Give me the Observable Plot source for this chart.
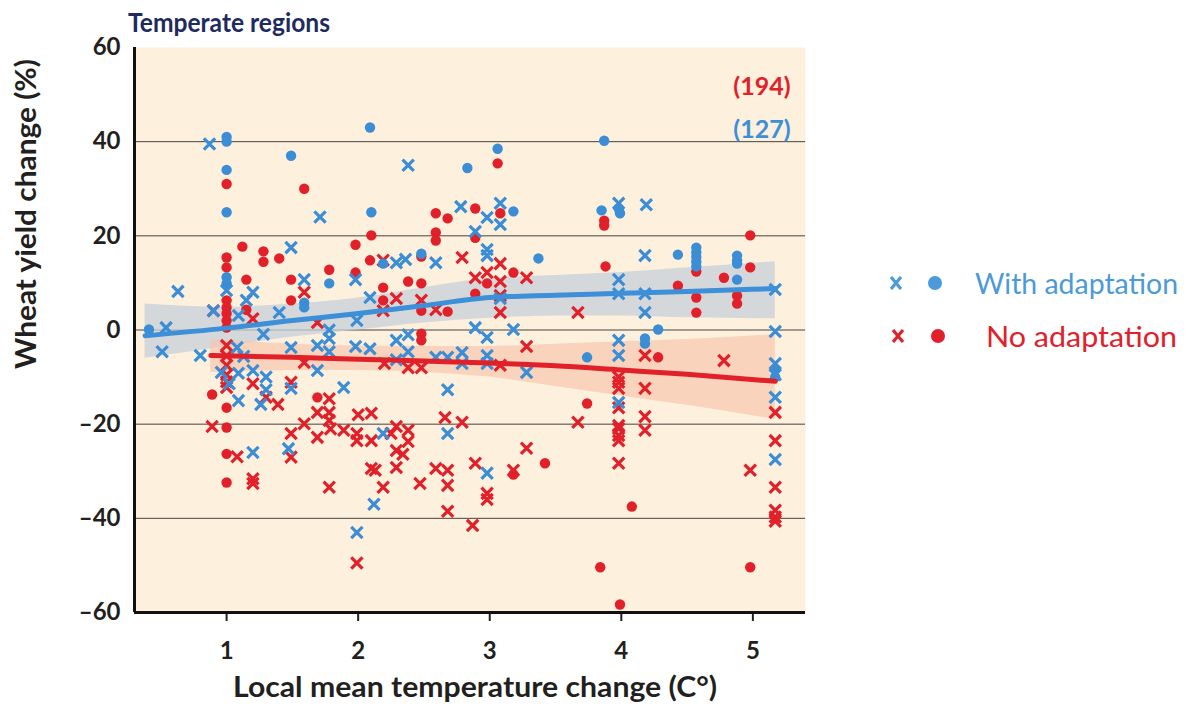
<!DOCTYPE html>
<html><head><meta charset="utf-8">
<script src="https://cdn.jsdelivr.net/npm/d3@7"></script>
<script src="https://cdn.jsdelivr.net/npm/@observablehq/plot@0.6"></script>
<style>
body{margin:0;background:#fff;font-family:Lato,"Open Sans",sans-serif;}
#wrap{position:relative;width:1193px;height:709px;}
#chart{position:absolute;left:0;top:0;}
#overlay{position:absolute;left:0;top:0;pointer-events:none;}
</style>
</head><body>
<div id="wrap">
<div id="chart"></div>
<svg id="overlay" width="1193" height="709"></svg>
</div>
<script>
// ---- data ----
const chartTitle = "Temperate regions";
const xLabel = "Local mean temperature change (C\u00b0)";
const yLabel = "Wheat yield change (%)";
const seriesNames = ["With adaptation", "No adaptation"];
const seriesCounts = ["(194)", "(127)"];
const xTicks = [1, 2, 3, 4, 5];
const yTicks = [-60, -40, -20, 0, 20, 40, 60];
const gridValues = [-40, -20, 0, 20, 40];

// With adaptation, crosses [temp change, yield change]
const withCross = [[0.87,39.5],[1.71,24],[1.49,17.5],[0.63,8.2],[1.2,8],[1.15,6.3],[1.59,10.7],[1.0,8.4],[1.98,10.7],
[0.9,4.1],[1.09,3.1],[1.40,3.7],[0.54,0.5],[0.51,-4.6],[0.80,-5.4],[1.28,-0.9],[1.78,0],[1.78,-1.8],[1.78,-4.6],[1.98,-3.5],
[1.08,-3.7],[1.13,-5.6],[1.49,-3.7],[1.69,-3.3],[1.69,-8.6],[0.96,-9],[1.02,-11.4],[1.09,-9.2],[1.2,-8.6],[1.3,-10],[1.3,-12.7],
[1.49,-12.4],[1.89,-12.2],[1.26,-15.8],[1.09,-15],[1.2,-26],[1.47,-25.2],[1.99,-43],[2.38,35],[2.78,26.2],[2.98,23.9],[3.08,26.9],
[3.08,22.4],[2.89,20.9],[2.29,14.3],[2.36,15],[2.59,14.3],[2.98,17.1],[2.98,15.8],[2.09,6.9],[3.08,6.7],[1.99,2],[2.89,0.5],
[3.18,0.1],[2.98,-1.6],[2.38,-1.0],[2.29,-2.2],[2.38,-4.6],[2.09,-4],[2.29,-6.3],[2.59,-5.8],[2.68,-5.8],[2.79,-4.8],[2.79,-7.1],
[2.98,-5.4],[2.98,-7.1],[3.28,-9],[2.68,-12.7],[2.19,-22],[2.68,-22],[2.12,-37],[2.98,-30.4],[3.98,26.9],[4.19,26.6],[4.18,15.8],
[3.98,10.7],[3.98,7.7],[4.18,7.7],[4.18,3.7],[5.17,8.6],[5.17,-0.3],[3.98,-2.2],[3.98,-5.4],[5.17,-7.1],[5.17,-9.5],[5.17,-14.3],
[3.98,-15.4],[5.17,-27.5]];
// With adaptation, dots
const withDot = [[0.41,0.1],[1.0,41],[1.0,40],[1.0,34],[1.0,25],[1.49,37],[1.0,11.2],[1.0,9.9],[1.59,5.8],[1.59,4.8],[1.78,9.9],
[2.09,43],[3.06,38.5],[2.83,34.4],[2.1,25],[3.18,25.2],[2.19,14.1],[2.48,16.2],[3.37,15.2],[3.87,40.2],[3.85,25.4],[3.99,24.8],
[3.98,25.8],[4.43,16],[4.57,17.5],[4.57,16.5],[4.57,15.5],[4.57,14.5],[4.57,13.5],[4.88,15.8],[4.88,14.8],[4.88,14.1],[4.88,10.7],
[4.28,0.1],[4.18,-1.8],[4.18,-2.9],[3.74,-5.8],[5.17,-8.3],[5.17,-10]];
// No adaptation, crosses
const noCross = [[1.59,8],[1.2,2.4],[0.9,4.1],[1.69,1.6],[1.0,-3.3],[1.0,-5.5],[1.0,-7.5],[1.0,-9.5],[1.0,-11],[1.59,-6.9],[1.2,-11.4],
[1.3,-14.3],[1.49,-11.1],[1.0,-12.2],[1.39,-15.8],[1.78,-14.6],[1.69,-17.5],[1.78,-17.5],[1.78,-19.2],[1.59,-19.9],[2.0,-18],
[0.89,-20.5],[1.49,-22],[1.69,-22.8],[1.79,-21],[1.89,-21.3],[1.99,-22],[1.99,-23.5],[1.08,-26.9],[1.49,-27],[1.2,-31.6],[1.2,-32.6],
[1.78,-33.4],[1.99,-49.5],[2.19,14.8],[2.79,15.4],[3.08,14.1],[3.28,11.1],[2.98,12.2],[2.89,11.1],[3.08,10.3],[2.19,4.1],[2.29,6.7],
[2.48,6.3],[2.59,4.3],[3.08,7.3],[3.08,3.7],[3.67,3.7],[3.28,-3.5],[2.2,-7.1],[2.38,-8],[2.48,-8],[3.08,-7.5],[2.1,-17.7],[2.66,-18.6],
[2.79,-19.6],[2.29,-20.5],[2.38,-21.3],[3.67,-19.6],[2.1,-23.5],[2.25,-22],[2.38,-23.7],[2.29,-25.6],[2.34,-26.4],[2.1,-29.4],
[2.13,-29.8],[2.29,-29.2],[2.59,-29.4],[2.68,-29.8],[2.89,-28.3],[3.18,-29.8],[3.28,-25.1],[2.19,-33.4],[2.47,-32.6],[2.68,-33],
[2.98,-34.7],[2.98,-36],[2.68,-38.5],[2.87,-41.5],[4.18,-5.4],[4.78,-6.5],[3.98,-10],[3.98,-11.1],[3.98,-12.4],[4.18,-12.4],
[3.98,-16.5],[5.17,-17.5],[4.18,-18.4],[3.98,-20.3],[3.98,-20.9],[3.98,-22.4],[3.98,-23.5],[4.18,-21.3],[3.98,-28.3],[4.98,-29.8],
[5.17,-23.5],[5.17,-33.4],[5.17,-38.3],[5.17,-39.7],[5.17,-40.6]];
// No adaptation, dots
const noDot = [[1.0,31],[1.59,30],[1.12,17.7],[1.28,16.7],[1.28,14.5],[1.40,15.2],[1.98,18.1],[1.0,15.4],[1.0,13.3],[1.0,6.3],[1.0,4.8],
[1.0,3.5],[1.0,2],[1.0,0.5],[1.15,10.7],[1.49,10.7],[1.49,6.3],[1.78,12.8],[1.98,12.2],[1.15,4.3],[0.89,-13.7],[1.0,-16.5],[1.69,-14.3],
[1.0,-20.7],[1.0,-26.3],[1.0,-32.4],[3.06,35.4],[2.59,24.8],[2.68,23.7],[2.89,25.8],[3.08,24.8],[2.1,20.1],[2.59,20.7],[2.59,19],
[2.89,19.6],[2.09,14.8],[2.48,15.6],[3.18,12.2],[2.98,9.9],[2.89,7.7],[2.19,9.0],[2.19,6.3],[2.38,10.3],[2.48,9.9],[2.48,4.1],
[2.68,3.9],[2.48,-0.8],[2.48,-2.2],[3.18,-30.7],[3.42,-28.3],[3.87,23.2],[3.87,22.2],[4.98,20.1],[4.57,12.4],[4.98,13.3],[4.78,11.1],
[3.88,13.5],[4.43,9.4],[4.57,6.9],[4.57,3.7],[4.88,7.3],[4.88,5.6],[4.28,-5.8],[3.74,-15.6],[4.08,-37.5],[3.84,-50.4],[3.99,-58.3],
[4.98,-50.4]];

// fitted trends and confidence bands
const withFitX  = [0.38, 1.0, 1.5, 2.0, 2.5, 3.0, 3.5, 4.0, 4.5, 5.17];
const withFit   = [-1.2, 0.4, 2.0, 3.5, 5.2, 6.9, 7.4, 7.8, 8.2, 8.8];
const withLo    = [-6.0, -3.5, -1.5, 0.0, 1.5, 2.5, 3.0, 3.0, 2.6, 2.4];
const withHi    = [5.5, 4.8, 5.5, 6.8, 9.0, 11.0, 11.6, 12.2, 13.2, 14.5];
const noFitX    = [0.88, 1.5, 2.0, 2.5, 3.0, 3.5, 4.0, 4.5, 5.17];
const noFit     = [-5.4, -5.8, -6.2, -6.6, -7.0, -7.6, -8.5, -9.4, -10.9];
const noLo      = [-9.0, -8.6, -8.6, -9.0, -10.0, -12.0, -14.0, -16.0, -19.0];
const noHi      = [-2.0, -3.0, -3.4, -3.5, -3.5, -3.0, -2.5, -2.0, -1.0];

// ---- build ----
const BLUE = "#3b8ed6", RED = "#e2202a", LBLUE = "#4b9ad9";
const pts = a => a.map(([x, y]) => ({x, y}));
const band = (xs, f, lo, hi) => xs.map((x, i) => ({x, f: f[i], lo: lo[i], hi: hi[i]}));
const wBand = band(withFitX, withFit, withLo, withHi);
const nBand = band(noFitX, noFit, noLo, noHi);
const FONT = 'Lato,"Open Sans",sans-serif';

const chart = Plot.plot({
  width: 820, height: 709,
  marginLeft: 134, marginRight: 15, marginTop: 47, marginBottom: 97,
  x: {domain: [0.3, 5.4]},
  y: {domain: [-60, 60]},
  style: {fontFamily: FONT, fontSize: "23px", fontWeight: "bold", color: "#231f20", background: "transparent"},
  marks: [
    Plot.frame({fill: "#fdf0dd", stroke: "none"}),
    Plot.ruleY(gridValues, {stroke: "#444", strokeWidth: 1}),
    Plot.areaY(wBand, {x: "x", y1: "lo", y2: "hi", fill: "#c7d0da", fillOpacity: 0.75, curve: "monotone-x"}),
    Plot.areaY(nBand, {x: "x", y1: "lo", y2: "hi", fill: "#f6c6ae", fillOpacity: 0.7, curve: "monotone-x"}),
    Plot.dot(pts(noDot), {x: "x", y: "y", r: 5.2, fill: RED, stroke: "none", symbol: "circle"}),
    Plot.dot(pts(noCross), {x: "x", y: "y", r: 5.2, stroke: RED, strokeWidth: 3.2, symbol: "times"}),
    Plot.dot(pts(withDot), {x: "x", y: "y", r: 5.2, fill: BLUE, stroke: "none", symbol: "circle"}),
    Plot.dot(pts(withCross), {x: "x", y: "y", r: 5.2, stroke: BLUE, strokeWidth: 3.2, symbol: "times"}),
    Plot.line(wBand, {x: "x", y: "f", stroke: "#3d8fd8", strokeWidth: 5, curve: "monotone-x"}),
    Plot.line(nBand, {x: "x", y: "f", stroke: RED, strokeWidth: 5, curve: "monotone-x"}),
    Plot.text([seriesCounts[0]], {frameAnchor: "top-right", dx: -15, dy: 30, text: d => d, fill: RED, fontSize: 25, fontWeight: "bold", textAnchor: "end"}),
    Plot.text([seriesCounts[1]], {frameAnchor: "top-right", dx: -15, dy: 73, text: d => d, fill: "#3d8fd8", fontSize: 25, fontWeight: "bold", textAnchor: "end"}),
    Plot.axisX({ticks: xTicks, tickSize: 9, tickPadding: 20, strokeWidth: 2, label: null, fontSize: 24, tickFormat: d => String(d)}),
    Plot.axisY({ticks: yTicks, tickSize: 0, tickPadding: 14, label: null, fontSize: 24,
      tickFormat: d => d < 0 ? "\u2013" + Math.abs(d) : String(d)}),
    Plot.ruleX([0.3], {stroke: "#111", strokeWidth: 3}),
    Plot.ruleY([-60], {stroke: "#111", strokeWidth: 3})
  ]
});
document.getElementById("chart").appendChild(chart);

const svg = d3.select(chart);
svg.append("text")
  .attr("transform", "translate(29,214) rotate(-90)")
  .attr("text-anchor", "middle").attr("dominant-baseline", "middle")
  .attr("textLength", 310).attr("lengthAdjust", "spacingAndGlyphs")
  .style("font-family", FONT).style("font-size", "29px").style("font-weight", "bold").style("fill", "#231f20")
  .text(yLabel);
svg.append("text")
  .attr("x", 475).attr("y", 690)
  .attr("text-anchor", "middle").attr("dominant-baseline", "middle")
  .attr("textLength", 484).attr("lengthAdjust", "spacingAndGlyphs")
  .style("font-family", FONT).style("font-size", "29px").style("font-weight", "bold").style("fill", "#231f20")
  .text(xLabel);

// title + legend overlay
const ov = d3.select("#overlay");
ov.append("text").attr("x", 128).attr("y", 32)
  .attr("textLength", 202).attr("lengthAdjust", "spacingAndGlyphs")
  .style("font-family", FONT).style("font-size", "27px").style("font-weight", "bold").style("fill", "#1e2b5e")
  .text(chartTitle);

const legColors = [LBLUE, RED];
const legY = [283, 336];
const legTextX = [975, 986];
const legTextLen = [203, 191];
seriesNames.forEach((name, i) => {
  const g = ov.append("g").attr("transform", `translate(0,${legY[i]})`);
  const cx = i === 0 ? 896 : 898;
  g.append("path").attr("d", `M${cx-5},-6L${cx+5},6M${cx+5},-6L${cx-5},6`)
    .attr("stroke", legColors[i]).attr("stroke-width", 3.2).attr("fill", "none");
  g.append("circle").attr("cx", i === 0 ? 935 : 938).attr("cy", 0).attr("r", 7).attr("fill", legColors[i]);
  g.append("text").attr("x", legTextX[i]).attr("y", 11)
    .attr("textLength", legTextLen[i]).attr("lengthAdjust", "spacingAndGlyphs")
    .style("font-family", FONT).style("font-size", "29px").style("fill", legColors[i])
    .text(name);
});
</script>
</body></html>
